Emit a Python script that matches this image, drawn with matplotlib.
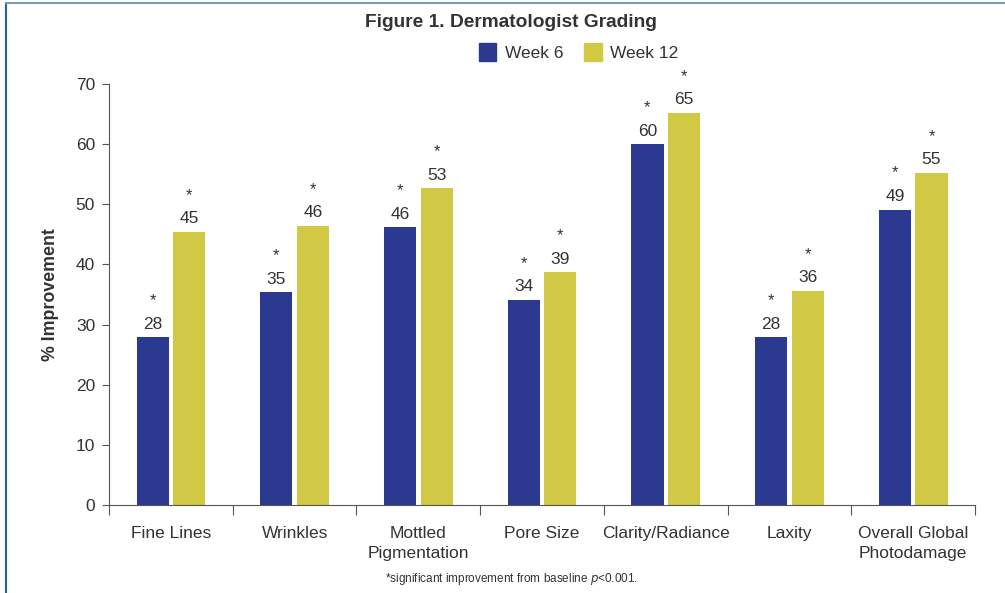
import numpy as np
import matplotlib.pyplot as plt
from matplotlib.patches import Patch
from matplotlib.lines import Line2D

plt.rcParams['font.family'] = ['Liberation Sans', 'DejaVu Sans']

categories = ["Fine Lines", "Wrinkles", "Mottled\nPigmentation", "Pore Size",
              "Clarity/Radiance", "Laxity", "Overall Global\nPhotodamage"]
week6 = [27.9, 35.4, 46.2, 34.1, 60.0, 27.9, 49.1]
week12 = [45.4, 46.4, 52.7, 38.7, 65.2, 35.6, 55.2]
week6_labels = ["28", "35", "46", "34", "60", "28", "49"]
week12_labels = ["45", "46", "53", "39", "65", "36", "55"]

blue = "#2b3990"
yellow = "#d1c843"
txt = "#333333"

fig = plt.figure(figsize=(10.05, 5.93), dpi=100)
ax = fig.add_axes([0.1085, 0.1484, 0.8617, 0.7099])

x = np.arange(len(categories))
w = 0.26
off = 0.148
ax.bar(x - off, week6, w, color=blue)
ax.bar(x + off, week12, w, color=yellow)

for i in range(len(x)):
    for xx, v, lab in [(x[i] - off, week6[i], week6_labels[i]),
                       (x[i] + off, week12[i], week12_labels[i])]:
        ax.annotate(lab, (xx, v), xytext=(0, 4), textcoords="offset points",
                    ha="center", va="bottom", fontsize=12.5, color=txt)
        ax.annotate("*", (xx, v), xytext=(0, 21), textcoords="offset points",
                    ha="center", va="bottom", fontsize=12, color=txt)

ax.set_xlim(-0.5, len(categories) - 0.5)
ax.set_ylim(0, 70)
ax.set_yticks(range(0, 71, 10))
ax.set_xticks(np.arange(len(categories) + 1) - 0.5)
ax.set_xticklabels([])
ax.tick_params(axis="x", length=7, color="#555555")
ax.tick_params(axis="y", length=5, color="#555555", labelsize=12.5,
               labelcolor=txt, pad=5)
for i, c in enumerate(categories):
    ax.text(i, -3.5, c, ha="center", va="top", fontsize=12.5, color=txt,
            linespacing=1.38)
for s in ["top", "right"]:
    ax.spines[s].set_visible(False)
for s in ["left", "bottom"]:
    ax.spines[s].set_color("#555555")
ax.set_ylabel("% Improvement", fontsize=12.8, fontweight="bold", color=txt,
              labelpad=12)

fig.text(0.508, 0.962, "Figure 1. Dermatologist Grading", ha="center",
         va="center", fontsize=13.8, fontweight="bold", color=txt)
handles = [Patch(color=blue), Patch(color=yellow)]
fig.legend(handles, ["Week 6", "Week 12"], loc="center",
           bbox_to_anchor=(0.576, 0.912), ncol=2, frameon=False,
           fontsize=12.5, handlelength=1.0, handleheight=1.25,
           handletextpad=0.5, columnspacing=1.2, labelcolor=txt)

fig.text(0.509, 0.024, "*significant improvement from baseline $\\it{p}$<0.001.",
         ha="center", va="center", fontsize=8.5, color=txt)

fig.add_artist(Line2D([0.006, 0.006], [0, 0.995], color="#2a6496", lw=1.5))
fig.add_artist(Line2D([0.006, 1.0], [0.995, 0.995], color="#7a9cb8", lw=1.5))

fig.savefig("out.png", dpi=100)
